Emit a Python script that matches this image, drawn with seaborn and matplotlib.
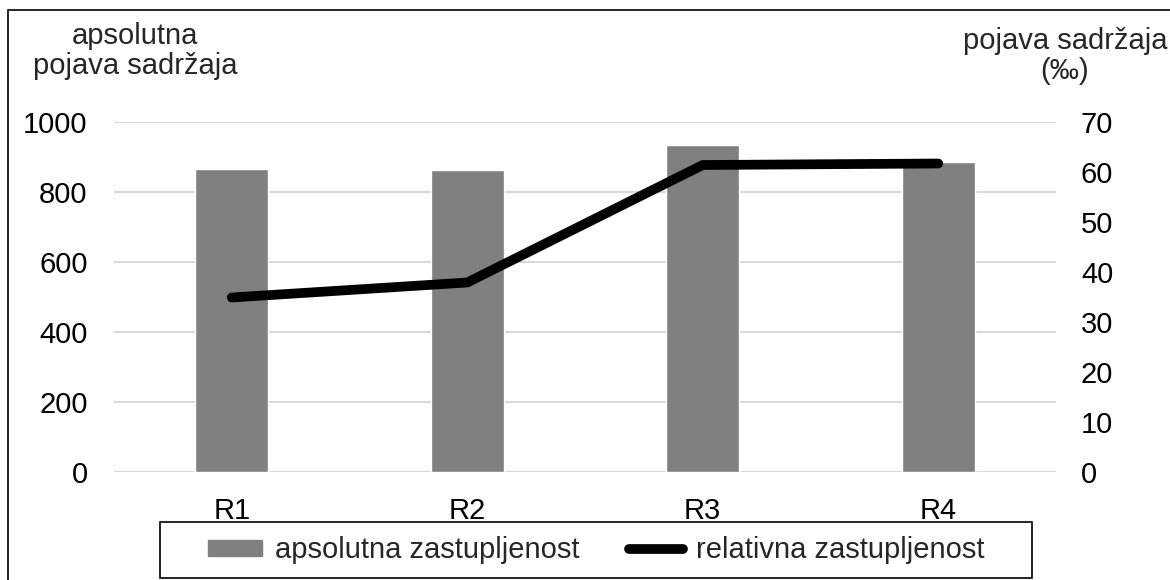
import numpy as np
import pandas as pd
import matplotlib
matplotlib.use("Agg")
import matplotlib.pyplot as plt
from matplotlib.patches import Patch, Rectangle
from matplotlib.lines import Line2D
import seaborn as sns

# data
regions = ["R1", "R2", "R3", "R4"]
absolute = [865, 863, 933, 887]          # apsolutna zastupljenost (left axis)
relative = [34.9, 37.9, 61.4, 61.7]      # relativna zastupljenost in ‰ (right axis)
left_ticks = [0, 200, 400, 600, 800, 1000]
right_ticks = [0, 10, 20, 30, 40, 50, 60, 70]

sns.set_theme(style="white")
plt.rcParams['font.family'] = ['Liberation Sans', 'DejaVu Sans']
FS = 21

df = pd.DataFrame({"region": regions, "abs": absolute, "rel": relative,
                   "pos": np.arange(len(regions))})

W, H = 1170, 580
fig = plt.figure(figsize=(W / 100, H / 100), dpi=100)
ax = fig.add_axes([114 / W, 1 - 472 / H, 942 / W, 350 / H])

bar_color = "#808080"
sns.barplot(data=df, x="region", y="abs", color=bar_color, width=0.31,
            saturation=1, ax=ax, zorder=2)
ax.set_ylim(0, 1000)
ax.set_xlim(-0.5, len(regions) - 0.5)
ax.set_yticks(left_ticks)
ax.yaxis.grid(True, color="#d9d9d9", linewidth=1.5, zorder=0)
ax.set_axisbelow(True)
ax.set_xlabel("")
ax.set_ylabel("")
for s in ax.spines.values():
    s.set_visible(False)
ax.tick_params(axis="y", length=0, pad=19, labelsize=FS, colors="black")
ax.tick_params(axis="x", length=0, pad=18, labelsize=FS, colors="black")

ax2 = ax.twinx()
sns.lineplot(data=df, x="pos", y="rel", color="black", linewidth=7,
             solid_capstyle="round", ax=ax2, zorder=3)
ax2.set_ylim(0, 70)
ax2.set_yticks(right_ticks)
ax2.set_xlim(-0.5, len(regions) - 0.5)
ax2.set_ylabel("")
ax2.set_xlabel("")
for s in ax2.spines.values():
    s.set_visible(False)
ax2.tick_params(axis="y", length=0, pad=18, labelsize=FS, colors="black")
ax2.grid(False)

# axis titles
fig.text(135 / W, 1 - 51 / H, "apsolutna\npojava sadržaja", ha="center",
         va="center", fontsize=FS, linespacing=1.1)
fig.text(1065 / W, 1 - 56 / H, "pojava sadržaja\n(‰)", ha="center",
         va="center", fontsize=FS, linespacing=1.1)

# legend (frame drawn separately so its size matches the reference)
handles = [Patch(facecolor=bar_color, edgecolor=bar_color),
           Line2D([0], [0], color="black", linewidth=7, solid_capstyle="round")]
fig.legend(handles, ["apsolutna zastupljenost", "relativna zastupljenost"],
           loc="center", bbox_to_anchor=(596 / W, 1 - 550 / H),
           ncol=2, fontsize=FS, frameon=False,
           handlelength=1.85, handleheight=0.47, handletextpad=0.45,
           columnspacing=1.7, borderpad=0.2)
fig.patches.append(Rectangle((160 / W, 1 - 578 / H), 872 / W, 56 / H,
                             transform=fig.transFigure, fill=False,
                             edgecolor="black", linewidth=1.2))

# outer chart border
fig.patches.append(Rectangle((8 / W, -0.1), 1.2, 1 - 10 / H + 0.1,
                             transform=fig.transFigure, fill=False,
                             edgecolor="black", linewidth=1.2))

fig.savefig("out.png", dpi=100)
